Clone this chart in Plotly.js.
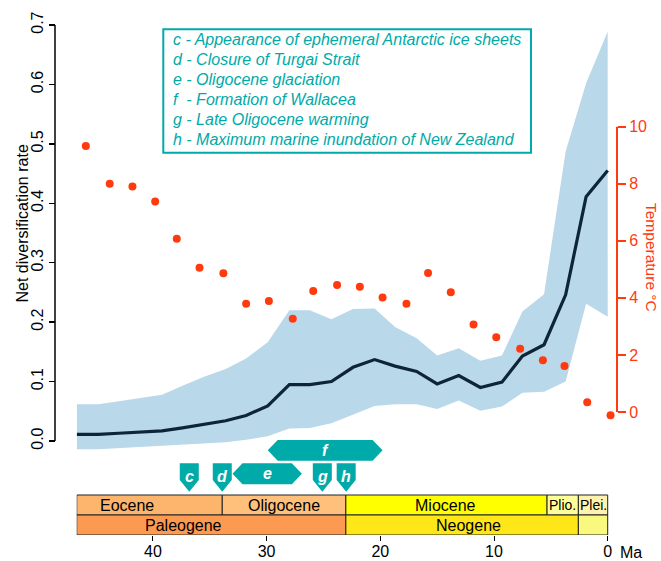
<!DOCTYPE html>
<html>
<head>
<meta charset="utf-8">
<script src="https://cdn.plot.ly/plotly-3.0.1.min.js"></script>
<style>html,body{margin:0;padding:0;background:#fff;}#chart{width:661px;height:561px;}</style>
</head>
<body>
<div id="chart"></div>
<script>
// ---------- data ----------
const binAge    = [46.7, 44.8, 43.0, 41.1, 39.2, 37.4, 35.5, 33.6, 31.8, 29.9, 28.0, 26.2, 24.3, 22.4, 20.5, 18.7, 16.8, 15.0, 13.1, 11.2, 9.3, 7.5, 5.6, 3.7, 1.9, 0.0];
const meanRate  = [0.011, 0.011, 0.013, 0.015, 0.017, 0.022, 0.028, 0.034, 0.043, 0.059, 0.095, 0.095, 0.100, 0.124, 0.137, 0.126, 0.117, 0.096, 0.110, 0.090, 0.099, 0.143, 0.162, 0.246, 0.411, 0.455];
const upperRate = [0.062, 0.062, 0.067, 0.072, 0.078, 0.093, 0.108, 0.121, 0.139, 0.166, 0.220, 0.220, 0.205, 0.222, 0.223, 0.192, 0.173, 0.144, 0.156, 0.135, 0.144, 0.218, 0.247, 0.487, 0.602, 0.689];
const lowerRate = [-0.014, -0.014, -0.012, -0.010, -0.008, -0.007, -0.004, -0.002, 0.002, 0.008, 0.021, 0.022, 0.030, 0.044, 0.059, 0.062, 0.062, 0.054, 0.068, 0.051, 0.058, 0.081, 0.083, 0.100, 0.231, 0.209];

const tempAge = [45.9, 43.8, 41.8, 39.8, 37.9, 35.9, 33.8, 31.8, 29.8, 27.7, 25.9, 23.8, 21.8, 19.8, 17.7, 15.8, 13.8, 11.8, 9.8, 7.7, 5.7, 3.8, 1.8, -0.25];
const tempVal = [9.32, 8.00, 7.90, 7.38, 6.07, 5.06, 4.86, 3.79, 3.89, 3.27, 4.24, 4.45, 4.39, 4.01, 3.79, 4.87, 4.20, 3.07, 2.62, 2.22, 1.81, 1.61, 0.34, -0.11];

const rateTicks = [0, 0.1, 0.2, 0.3, 0.4, 0.5, 0.6, 0.7];
const rateTickText = ['0.0', '0.1', '0.2', '0.3', '0.4', '0.5', '0.6', '0.7'];
const tempTicks = [0, 2, 4, 6, 8, 10];
const ageTicks = [40, 30, 20, 10, 0];
const ageTickText = ['40', '30', '20', '10', '0'];

const epochNames = ['Eocene', 'Oligocene', 'Miocene', 'Plio.', 'Plei.'];
const epochStart = [46.7, 33.9, 23.03, 5.333, 2.58];
const epochEnd   = [33.9, 23.03, 5.333, 2.58, 0];
const epochLabelAge = [42.3, 28.47, 14.3, 3.98, 1.27];
const periodNames = ['Paleogene', 'Neogene', ''];
const periodStart = [46.7, 23.03, 2.58];
const periodEnd   = [23.03, 2.58, 0];
const periodLabelAge = [37.3, 12.2, 1.29];

const eventLabels = ['c', 'd', 'e', 'f', 'g', 'h'];
const eventStart  = [36.8, 33.9, 33.0, 29.9, 25.1, 23.0];
const eventEnd    = [36.8, 33.9, 26.9, 19.8, 25.1, 23.0];
const eventDesc = [
  'c - Appearance of ephemeral Antarctic ice sheets',
  'd - Closure of Turgai Strait',
  'e - Oligocene glaciation',
  'f  - Formation of Wallacea',
  'g - Late Oligocene warming',
  'h - Maximum marine inundation of New Zealand'
];

// ---------- styles ----------
const FONT = 'Liberation Sans, Arial, Helvetica, sans-serif';
const TEAL = '#00aaa8';
const RED = '#ff3a0f';
const epochColors = ['#fdb46c', '#fec07a', '#ffff00', '#ffff99', '#fff2ae'];
const periodColors = ['#fd9a52', '#ffe619', '#f9f97f'];
const eventRow = [1, 1, 1, 0, 1, 1];

// pixel <-> data helpers (plot geometry)
const X0PX = 607.7, PXMA = 11.37, Y0PX = 441, PXY = 594.3;
const ax = px => (X0PX - px) / PXMA;
const ay = py => (Y0PX - py) / PXY;
const ML = 55, MR = 44, PW = 661 - ML - MR, MT = 25, MB = 26, PH = 561 - MT - MB;
const px2paper = px => (px - ML) / PW;
const py2paper = py => (561 - MB - py) / PH;

// ---------- traces ----------
const band = {
  x: binAge.concat(binAge.slice().reverse()),
  y: upperRate.concat(lowerRate.slice().reverse()),
  type: 'scatter', mode: 'lines', fill: 'toself',
  fillcolor: '#b9d8ea', line: {width: 0, color: 'rgba(0,0,0,0)'},
  hoverinfo: 'skip', showlegend: false
};
const mean = {
  x: binAge, y: meanRate, type: 'scatter', mode: 'lines',
  line: {color: '#0d2536', width: 3.2}, showlegend: false
};
const temp = {
  x: tempAge, y: tempVal, yaxis: 'y2', type: 'scatter', mode: 'markers',
  marker: {color: RED, size: 8}, cliponaxis: false, showlegend: false
};

// ---------- shapes & annotations ----------
const shapes = [];
const annotations = [];

// axis lines (only over tick range)
shapes.push({type: 'line', xref: 'paper', yref: 'y', x0: 0, x1: 0, y0: 0, y1: 0.7, line: {color: '#000', width: 1.5}});
shapes.push({type: 'line', xref: 'paper', yref: 'y2', x0: 1, x1: 1, y0: 0, y1: 10, line: {color: RED, width: 2}});

// legend box
shapes.push({type: 'rect', xref: 'x', yref: 'y', x0: ax(163.3), x1: ax(531), y0: ay(29.3), y1: ay(152.7),
  line: {color: TEAL, width: 2}, fillcolor: 'rgba(0,0,0,0)'});
eventDesc.forEach((t, i) => {
  annotations.push({xref: 'x', yref: 'y', x: ax(170.5), y: ay(39.8 + 20 * i), xanchor: 'left', yanchor: 'middle',
    text: '<i>' + t + '</i>', showarrow: false, font: {family: FONT, size: 16, color: TEAL}});
});

// event markers
eventLabels.forEach((lab, i) => {
  const s = eventStart[i], e = eventEnd[i];
  let path, lx, ly;
  if (s === e) {
    const hw = 9.5 / PXMA;
    const top = ay(463.3), sh = ay(480), tip = ay(491.7);
    path = `M ${s + hw},${top} L ${s - hw},${top} L ${s - hw},${sh} L ${s},${tip} L ${s + hw},${sh} Z`;
    lx = s; ly = ay(476);
  } else {
    const d = 10 / PXMA;
    const rows = eventRow[i] === 0 ? [440, 460.7] : [463.3, 484.3];
    const top = ay(rows[0]), bot = ay(rows[1]), mid = ay((rows[0] + rows[1]) / 2);
    path = `M ${s},${mid} L ${s - d},${top} L ${e + d},${top} L ${e},${mid} L ${e + d},${bot} L ${s - d},${bot} Z`;
    lx = (s + e) / 2; ly = mid;
  }
  shapes.push({type: 'path', xref: 'x', yref: 'y', path: path, fillcolor: TEAL, line: {width: 0}});
  annotations.push({xref: 'x', yref: 'y', x: lx, y: ly, text: '<b><i>' + lab + '</i></b>', showarrow: false,
    xanchor: 'center', yanchor: 'middle', font: {family: FONT, size: 16, color: '#ffffff'}});
});

// timescale
epochNames.forEach((n, i) => {
  shapes.push({type: 'rect', xref: 'x', yref: 'y', x0: epochStart[i], x1: epochEnd[i], y0: ay(515), y1: ay(495),
    fillcolor: epochColors[i], line: {color: '#222', width: 1}});
  annotations.push({xref: 'x', yref: 'y', x: epochLabelAge[i], y: ay(505), text: n, showarrow: false,
    xanchor: 'center', yanchor: 'middle', font: {family: FONT, size: n.length <= 5 ? 14 : 16, color: '#000'}});
});
periodNames.forEach((n, i) => {
  shapes.push({type: 'rect', xref: 'x', yref: 'y', x0: periodStart[i], x1: periodEnd[i], y0: ay(535), y1: ay(515),
    fillcolor: periodColors[i], line: {color: '#222', width: 1}});
  if (n) annotations.push({xref: 'x', yref: 'y', x: periodLabelAge[i], y: ay(525), text: n, showarrow: false,
    xanchor: 'center', yanchor: 'middle', font: {family: FONT, size: 16, color: '#000'}});
});

// axis titles & unit
annotations.push({xref: 'paper', yref: 'paper', x: px2paper(22), y: py2paper(223.5), text: 'Net diversification rate',
  textangle: -90, showarrow: false, xanchor: 'center', yanchor: 'middle', font: {family: FONT, size: 16, color: '#000'}});
annotations.push({xref: 'paper', yref: 'paper', x: px2paper(652), y: py2paper(257), text: 'Temperature °C',
  textangle: 90, showarrow: false, xanchor: 'center', yanchor: 'middle', font: {family: FONT, size: 15.5, color: RED}});
annotations.push({xref: 'paper', yref: 'paper', x: px2paper(618), y: py2paper(552.5), text: 'Ma',
  showarrow: false, xanchor: 'left', yanchor: 'middle', font: {family: FONT, size: 16, color: '#000'}});

const layout = {
  width: 661, height: 561,
  margin: {l: ML, r: MR, t: MT, b: MB, pad: 0},
  paper_bgcolor: '#fff', plot_bgcolor: 'rgba(0,0,0,0)',
  font: {family: FONT, size: 16, color: '#000'},
  showlegend: false,
  xaxis: {
    range: [ax(76.7), ax(614)], domain: [px2paper(76.7), px2paper(614)],
    tickvals: ageTicks, ticktext: ageTickText, ticks: 'outside', ticklen: 5, tickwidth: 1, tickcolor: '#000',
    ticklabelstandoff: -3,
    showline: false, showgrid: false, zeroline: false,
    tickfont: {family: FONT, size: 16, color: '#000'}
  },
  yaxis: {
    range: [ay(535), ay(25)], anchor: 'free', position: 0,
    tickvals: rateTicks, ticktext: rateTickText, ticks: 'outside', ticklen: 6, tickwidth: 1.5, tickcolor: '#000',
    tickangle: -90, showline: false, showgrid: false, zeroline: false,
    tickfont: {family: FONT, size: 16, color: '#000'}
  },
  yaxis2: {
    range: [(412 - 535) / 28.53, (412 - 25) / 28.53], overlaying: 'y', side: 'right', anchor: 'free', position: 1,
    tickvals: tempTicks, ticks: 'outside', ticklen: 8, tickwidth: 2, tickcolor: RED,
    showline: false, showgrid: false, zeroline: false,
    tickfont: {family: FONT, size: 16, color: RED}
  },
  shapes: shapes,
  annotations: annotations
};

Plotly.newPlot('chart', [band, mean, temp], layout, {staticPlot: true, displayModeBar: false});
</script>
</body>
</html>
